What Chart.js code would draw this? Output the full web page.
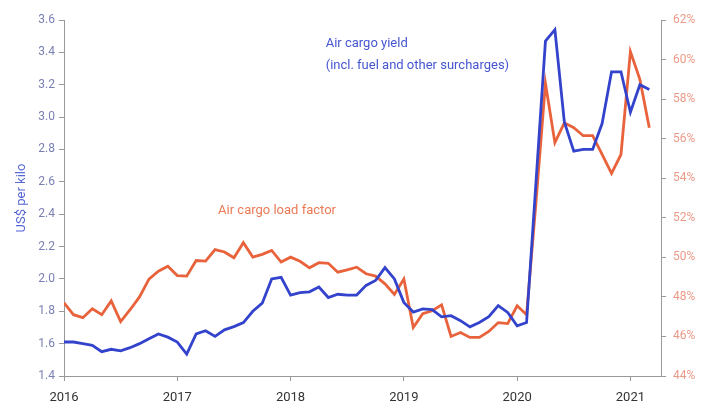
<!DOCTYPE html>
<html lang="en">
<head>
  <meta charset="UTF-8">
  <title>Air cargo yield vs load factor</title>
  <script src="https://cdn.jsdelivr.net/npm/chart.js@4"></script>
  <style>
    body { margin:0; background:#fff; }
    .wrap { width:715px; height:408px; position:relative; }
  </style>
</head>
<body>
  <div class="wrap"><canvas id="chart"></canvas></div>

<script>
// monthly, Jan 2016 .. Mar 2021
const startYear = 2016;
const yearTicks = [2016, 2017, 2018, 2019, 2020, 2021];

// US$ per kilo
const yieldUsd = [
  1.61, 1.61, 1.60, 1.59, 1.55, 1.565, 1.555, 1.575, 1.60, 1.63, 1.66, 1.64,
  1.61, 1.535, 1.66, 1.68, 1.645, 1.685, 1.705, 1.73, 1.80, 1.85, 2.00, 2.01,
  1.90, 1.915, 1.92, 1.95, 1.885, 1.905, 1.90, 1.90, 1.96, 1.99, 2.07, 2.00,
  1.855, 1.795, 1.815, 1.81, 1.766, 1.773, 1.742, 1.704, 1.731, 1.766, 1.835, 1.793,
  1.71, 1.73, 2.60, 3.47, 3.54, 2.97, 2.79, 2.80, 2.80, 2.96, 3.28, 3.28,
  3.03, 3.20, 3.17
];

// load factor, %
const loadFactor = [
  47.7, 47.1, 46.95, 47.4, 47.1, 47.8, 46.75, 47.35, 48.0, 48.9, 49.3, 49.55,
  49.08, 49.05, 49.84, 49.81, 50.39, 50.27, 49.98, 50.74, 50.01, 50.15, 50.35, 49.76,
  50.01, 49.8, 49.47, 49.73, 49.7, 49.25, 49.37, 49.5, 49.17, 49.05, 48.66, 48.12,
  48.9, 46.45, 47.15, 47.3, 47.6, 46.0, 46.2, 45.95, 45.95, 46.25, 46.7, 46.65,
  47.55, 47.1, 52.8, 58.8, 55.8, 56.8, 56.55, 56.15, 56.15, 55.2, 54.25, 55.2,
  60.4, 59.0, 56.55
];

const BLUE = "#3343cc", ORANGE = "#e8633b";
const FONT = "Roboto, 'Liberation Sans', sans-serif";

const toPts = arr => arr.map((v, i) => ({ x: startYear + i / 12, y: v }));

// free text labels on the plot
const notes = {
  id: "notes",
  afterDraw(c) {
    const ctx = c.ctx, x = c.scales.x, y = c.scales.y, y1 = c.scales.y1;
    ctx.save();
    ctx.font = "13px " + FONT;
    ctx.textBaseline = "middle";
    ctx.textAlign = "left";
    ctx.fillStyle = "#4656d0";
    ctx.fillText("Air cargo yield", x.getPixelForValue(2018.31), y.getPixelForValue(3.455));
    ctx.fillText("(incl. fuel and other surcharges)", x.getPixelForValue(2018.31), y.getPixelForValue(3.32));
    ctx.fillStyle = "#ea7a55";
    ctx.fillText("Air cargo load factor", x.getPixelForValue(2017.36), y1.getPixelForValue(52.38));
    ctx.restore();
  }
};

new Chart(document.getElementById("chart"), {
  type: "line",
  data: {
    datasets: [
      { label: "Air cargo yield", data: toPts(yieldUsd), yAxisID: "y",
        borderColor: BLUE, borderWidth: 2.8, pointRadius: 0, tension: 0 },
      { label: "Air cargo load factor", data: toPts(loadFactor), yAxisID: "y1",
        borderColor: ORANGE, borderWidth: 2.8, pointRadius: 0, tension: 0 }
    ]
  },
  options: {
    responsive: true,
    maintainAspectRatio: false,
    animation: false,
    layout: { padding: { top: 20, right: 0, left: 14, bottom: 0 } },
    plugins: { legend: { display: false }, tooltip: { enabled: false } },
    scales: {
      x: {
        type: "linear", min: 2016, max: 2021.27,
        afterBuildTicks: s => { s.ticks = yearTicks.map(v => ({ value: v })); },
        afterFit: s => { s.height = 32; },
        grid: { display: true, drawOnChartArea: false, drawTicks: true, tickLength: 5, color: "#999" },
        border: { display: true, color: "#999", width: 1 },
        ticks: { color: "#333", font: { family: FONT, size: 13 }, padding: 9,
                 maxRotation: 0, callback: v => String(v) }
      },
      y: {
        position: "left", min: 1.4, max: 3.6,
        afterFit: s => { s.width = 50; },
        grid: { display: true, drawOnChartArea: false, drawTicks: true, tickLength: 5, color: "#999" },
        border: { display: true, color: "#999", width: 1 },
        ticks: { stepSize: 0.2, color: "#7a80b4", font: { family: FONT, size: 12 }, padding: 4,
                 callback: v => v.toFixed(1) },
        title: { display: true, text: "US$ per kilo", color: "#5566d6",
                 font: { family: FONT, size: 13 }, padding: 0 }
      },
      y1: {
        position: "right", min: 44, max: 62,
        afterFit: s => { s.width = 54; },
        grid: { display: true, drawOnChartArea: false, drawTicks: true, tickLength: 5, color: "#999" },
        border: { display: true, color: "#999", width: 1 },
        ticks: { stepSize: 2, color: "#eb9a88", font: { family: FONT, size: 12 }, padding: 7,
                 callback: v => v + "%" }
      }
    }
  },
  plugins: [notes]
});
</script>
</body>
</html>
